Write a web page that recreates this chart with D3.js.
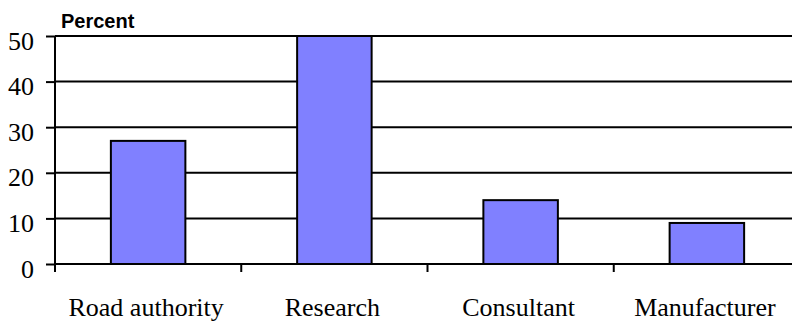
<!DOCTYPE html>
<html><head><meta charset="utf-8">
<script src="https://cdn.jsdelivr.net/npm/d3@7"></script>
<style>body{margin:0;background:#fff}svg{display:block}
.serif{font-family:"Liberation Serif","Times New Roman","DejaVu Serif",serif;font-size:26px}
.sansb{font-family:"Liberation Sans",Arial,sans-serif;font-weight:bold;font-size:20px}
</style>
</head><body>
<script>
const categories = ["Road authority", "Research", "Consultant", "Manufacturer"];
const values = [27, 50, 14, 9];
const yTicks = [0, 10, 20, 30, 40, 50];
const yLabel = "Percent";

const W = 792, H = 322;
const svg = d3.select("body").append("svg").attr("width", W).attr("height", H);
const x = d3.scaleBand().domain(categories).range([55, 800]).paddingInner(0.6).paddingOuter(0.3);
const xOuter = d3.scaleBand().domain(categories).range([55, 800]);
const y = d3.scaleLinear().domain([0, 50]).range([264, 36]);

// gridlines
svg.append("g").selectAll("line").data(yTicks.filter(d => d > 0)).join("line")
  .attr("x1", 55).attr("x2", 800).attr("y1", d => y(d)).attr("y2", d => y(d))
  .attr("stroke", "#000").attr("stroke-width", 2);

// bars
svg.append("g").selectAll("rect").data(values).join("rect")
  .attr("x", (d, i) => x(categories[i]))
  .attr("width", x.bandwidth())
  .attr("y", d => y(d))
  .attr("height", d => y(0) - y(d))
  .attr("fill", "#8080ff").attr("stroke", "#000").attr("stroke-width", 2);

// y axis
const ya = svg.append("g").attr("transform", "translate(55,0)")
  .call(d3.axisLeft(y).tickValues(yTicks).tickSize(9).tickPadding(12).tickSizeOuter(0));
ya.attr("font-family", null).attr("font-size", null);
ya.select(".domain").remove();
ya.append("line").attr("x1", 0).attr("x2", 0).attr("y1", y(50)).attr("y2", 272).attr("stroke", "#000").attr("stroke-width", 2);
ya.selectAll(".tick line").attr("stroke-width", 2);
ya.selectAll(".tick text").attr("dy", 13).attr("class", "serif").attr("fill", "#000");

// x axis
const xa = svg.append("g").attr("transform", `translate(0,${y(0)})`);
xa.append("line").attr("x1", 55).attr("x2", 800).attr("stroke", "#000").attr("stroke-width", 2);
xa.selectAll("line.t").data(categories.slice(1)).join("line").attr("class", "t")
  .attr("x1", d => xOuter(d)).attr("x2", d => xOuter(d)).attr("y1", 0).attr("y2", 8)
  .attr("stroke", "#000").attr("stroke-width", 2);
xa.selectAll("text").data(categories).join("text")
  .attr("class", "serif")
  .attr("x", d => xOuter(d) + xOuter.bandwidth() / 2 - 2)
  .attr("y", 52)
  .attr("text-anchor", "middle")
  .text(d => d);

svg.append("text").attr("class", "sansb").attr("x", 61).attr("y", 28).text(yLabel);
</script>
</body></html>
